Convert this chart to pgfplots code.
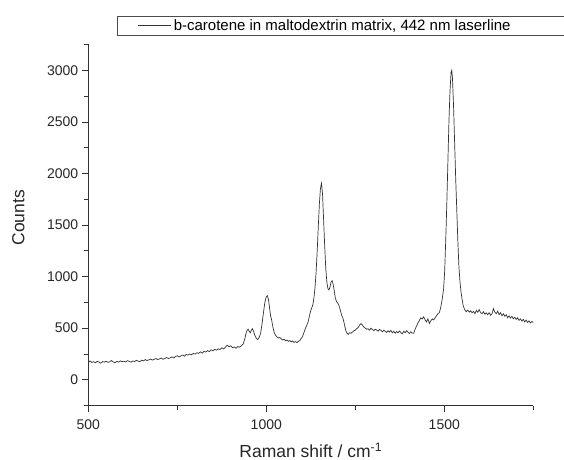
\documentclass[border=0pt]{standalone}
\usepackage{fontspec}
\setmainfont{Liberation Sans}
\usepackage{pgfplots}
\pgfplotsset{compat=1.18}
\begin{document}
\begin{tikzpicture}
\begin{axis}[
  scale only axis,
  width=445bp, height=361bp,
  xmin=500, xmax=1750, ymin=-250, ymax=3250,
  axis x line*=bottom, axis y line*=left,
  axis line style={-, black!80, line width=0.7bp},
  xtick={500,1000,1500}, minor xtick={750,1250,1750},
  ytick={0,500,1000,1500,2000,2500,3000},
  minor ytick={-250,250,750,1250,1750,2250,2750,3250},
  tick align=outside,
  major tick length=6.5bp, minor tick length=4bp,
  tick style={black!80, line width=0.7bp},
  /pgf/number format/assume math mode=true,
  /pgf/number format/1000 sep={},
  ticklabel style={font=\fontsize{14bp}{16bp}\selectfont, text=black!85},
  xticklabel style={yshift=-4bp},
  xlabel={Raman shift / cm\textsuperscript{-1}},
  ylabel={Counts},
  label style={font=\fontsize{17.5bp}{20bp}\selectfont, text=black!85},
  xlabel style={at={(axis description cs:0.5,-0.145)}, anchor=base},
  ylabel style={at={(axis description cs:-0.157,0.52)}, anchor=center},
  legend image code/.code={\draw[#1] (0bp,0bp) -- (33bp,0bp);},
  legend style={at={(0.064,1.080)}, anchor=north west, draw=black!70,
    line width=0.6bp, fill=white, font=\fontsize{15bp}{17bp}\selectfont,
    inner xsep=21bp, inner ysep=1.5bp, nodes={inner sep=2bp}},
  legend cell align=left,
]
\addplot[black!80, line width=0.7bp] coordinates {
(500,170)(505,182)(510,168)(515,175)(520,165)(525,178)(530,172)(535,160)(540,176)(545,170)
(550,180)(555,168)(560,174)(565,186)(570,172)(575,165)(580,178)(585,170)(590,183)(595,175)
(600,180)(605,172)(610,185)(615,178)(620,170)(625,182)(630,176)(635,188)(640,180)(645,174)
(650,190)(655,182)(660,195)(665,186)(670,192)(675,200)(680,190)(685,198)(690,205)(695,196)
(700,202)(705,210)(710,198)(715,206)(720,215)(725,205)(730,212)(735,222)(740,210)(745,225)
(750,232)(755,220)(760,230)(765,240)(770,228)(775,245)(780,238)(785,250)(790,242)(795,255)
(800,248)(805,262)(810,255)(815,270)(820,258)(825,275)(830,268)(835,282)(840,272)(845,290)
(850,280)(855,295)(860,286)(865,300)(870,292)(875,310)(880,298)(885,315)(890,335)(895,320)
(900,328)(905,310)(910,318)(915,305)(920,322)(925,315)(930,330)(935,345)(940,400)(943,450)
(946,480)(949,490)(952,470)(955,455)(958,480)(961,495)(964,470)(968,430)(972,400)(976,390)
(980,410)(984,450)(988,540)(992,650)(996,750)(1000,805)(1003,815)(1006,780)(1009,700)(1012,620)
(1015,580)(1018,520)(1022,460)(1026,430)(1030,415)(1034,405)(1038,410)(1042,395)(1046,385)(1050,392)
(1054,378)(1058,385)(1062,372)(1066,380)(1070,368)(1074,375)(1078,362)(1082,370)(1086,360)(1090,372)
(1094,380)(1098,400)(1102,420)(1106,460)(1110,500)(1114,530)(1117,555)(1120,600)(1124,660)(1128,700)
(1131,730)(1134,800)(1137,900)(1140,1050)(1143,1250)(1146,1480)(1149,1700)(1152,1850)(1155,1905)(1158,1800)
(1161,1550)(1164,1300)(1167,1080)(1170,950)(1173,885)(1176,870)(1179,900)(1182,950)(1185,960)(1188,920)
(1191,860)(1194,790)(1197,760)(1200,745)(1203,730)(1206,700)(1209,660)(1212,620)(1215,600)(1218,560)
(1221,510)(1224,470)(1227,450)(1230,440)(1234,455)(1238,450)(1242,462)(1246,475)(1250,480)(1254,495)
(1258,505)(1262,530)(1266,545)(1270,530)(1274,510)(1278,500)(1282,490)(1286,495)(1290,480)(1294,500)
(1298,488)(1302,475)(1306,490)(1310,482)(1314,470)(1318,488)(1322,478)(1326,465)(1330,480)(1334,470)
(1338,458)(1342,475)(1346,462)(1350,478)(1354,455)(1358,470)(1362,450)(1366,468)(1370,455)(1374,472)
(1378,458)(1382,445)(1386,470)(1390,455)(1394,475)(1398,460)(1402,448)(1406,465)(1410,452)(1414,450)
(1418,490)(1422,520)(1426,550)(1430,575)(1434,600)(1438,590)(1442,610)(1446,580)(1450,560)(1454,590)
(1458,545)(1462,570)(1466,590)(1470,580)(1474,600)(1478,620)(1482,640)(1486,650)(1490,700)(1494,780)
(1498,880)(1501,1050)(1504,1350)(1507,1700)(1510,2100)(1513,2500)(1516,2800)(1519,2980)(1521,3000)(1523,2920)
(1526,2650)(1529,2300)(1532,1950)(1535,1650)(1538,1350)(1541,1100)(1544,950)(1547,850)(1550,780)(1553,720)
(1556,690)(1559,670)(1562,660)(1566,675)(1570,655)(1574,668)(1578,650)(1582,662)(1586,640)(1590,672)
(1594,655)(1598,680)(1602,650)(1606,640)(1610,660)(1614,635)(1618,648)(1622,630)(1626,650)(1630,625)
(1634,640)(1638,690)(1642,655)(1646,640)(1650,665)(1654,630)(1658,650)(1662,620)(1666,640)(1670,615)
(1674,630)(1678,600)(1682,620)(1686,598)(1690,615)(1694,590)(1698,605)(1702,585)(1706,600)(1710,575)
(1714,590)(1718,568)(1722,585)(1726,560)(1730,578)(1734,555)(1738,570)(1742,550)(1746,565)(1750,555)
};
\addlegendentry{\makebox[400bp][l]{b-carotene in maltodextrin matrix, 442 nm laserline}}
\end{axis}
\pgfresetboundingbox
\useasboundingbox (-88.3bp,-54.5bp) rectangle (475.7bp,405.5bp);
\end{tikzpicture}
\end{document}
